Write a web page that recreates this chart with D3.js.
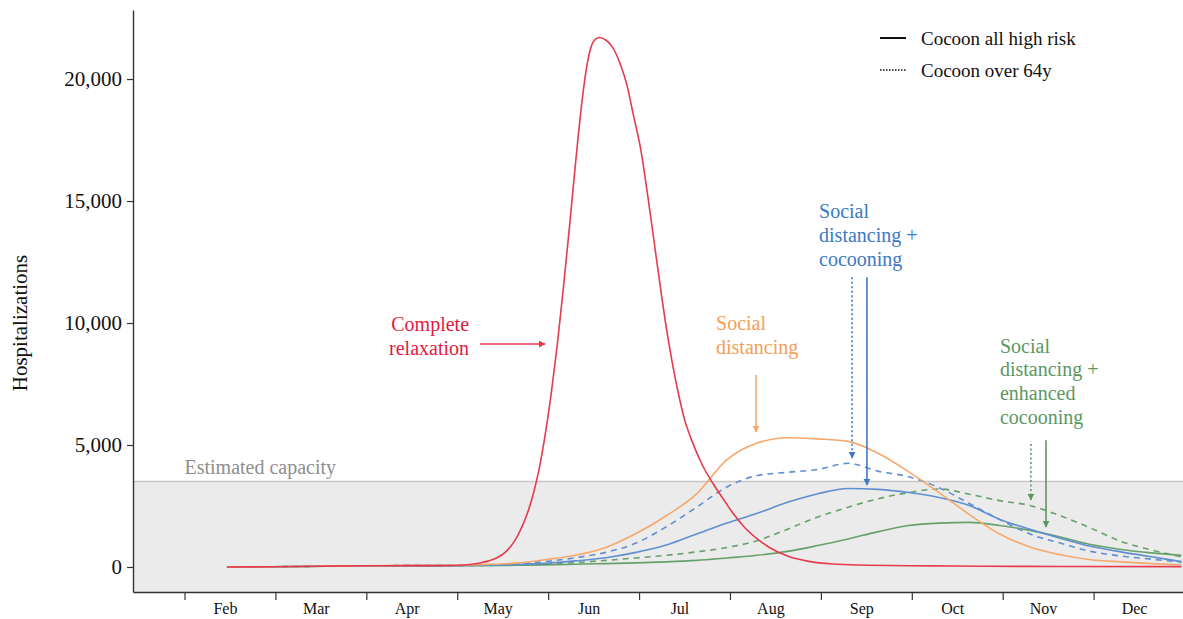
<!DOCTYPE html>
<html>
<head>
<meta charset="utf-8">
<script src="https://cdn.jsdelivr.net/npm/d3@7"></script>
<style>
  body { margin: 0; background: #fff; }
  text { font-family: "Liberation Serif", "Times New Roman", serif; }
</style>
</head>
<body>
<svg id="svg" width="1183" height="619"></svg>
<script>
// day of year (months drawn as 30-day blocks)
const monthTicks = [31, 61, 91, 121, 151, 181, 211, 241, 271, 301, 331];
const monthLabels = ["Feb", "Mar", "Apr", "May", "Jun", "Jul", "Aug", "Sep", "Oct", "Nov", "Dec"];
const yTicks = [0, 5000, 10000, 15000, 20000];
const capacity = 3500;

// complete relaxation (own grid, sharper peak)
const relaxDays = [45, 60, 75, 90, 105, 120, 125, 128.5, 131, 134, 137, 140, 142, 144, 146, 148, 150, 152, 154, 156, 158, 160, 162, 164, 166, 168, 170, 172, 174.7, 177, 179, 181.6, 184, 186, 188, 190, 192, 194, 196, 198.5, 202, 205.5, 209, 212, 216, 220, 224, 230, 237, 245, 254, 284, 320, 360];
const relaxValues = [0, 10, 30, 50, 55, 60, 100, 160, 240, 370, 620, 1080, 1550, 2150, 2950, 4000, 5400, 7100, 9100, 11400, 13900, 16500, 18900, 20700, 21550, 21700, 21600, 21350, 20650, 19750, 18600, 17090, 15100, 13300, 11500, 9800, 8350, 7100, 6050, 5150, 4150, 3400, 2750, 2200, 1600, 1150, 800, 450, 230, 120, 80, 40, 20, 15];

// the social distancing scenarios share one grid
const days = [45, 60, 75, 90, 105, 120, 130, 140, 150, 160, 170, 180, 190, 200, 210, 220, 230, 240, 250, 260, 270, 280, 290, 300, 310, 320, 330, 340, 350, 360];
const sdOnly = [0, 10, 30, 50, 60, 70, 100, 160, 300, 480, 800, 1370, 2100, 3000, 4400, 5080, 5300, 5250, 5150, 4650, 3900, 3050, 2150, 1350, 820, 500, 300, 210, 140, 90];
const sdCocoon64 = [0, 10, 30, 50, 55, 60, 80, 120, 220, 380, 600, 980, 1650, 2450, 3280, 3750, 3880, 4000, 4250, 3920, 3700, 3250, 2600, 1950, 1350, 980, 640, 450, 320, 200];
const sdCocoonAll = [0, 10, 30, 50, 55, 60, 70, 100, 150, 250, 380, 600, 900, 1350, 1800, 2200, 2650, 3000, 3220, 3180, 3050, 2850, 2520, 1950, 1550, 1180, 850, 620, 420, 220];
const enhanced64 = [0, 10, 30, 50, 55, 60, 70, 90, 120, 180, 270, 370, 480, 620, 800, 1080, 1550, 2050, 2450, 2800, 3050, 3200, 2980, 2720, 2520, 2100, 1600, 1050, 700, 420];
const enhancedAll = [0, 10, 25, 40, 45, 50, 55, 70, 85, 110, 140, 170, 210, 270, 370, 480, 640, 880, 1150, 1450, 1700, 1800, 1830, 1700, 1500, 1230, 920, 720, 580, 480];

var svg = d3.select("#svg"),
    plotLeft = 133, plotRight = 1183, plotTop = 10, plotBottom = 592;

var red = "#e63a4d", orange = "#f6a86c", blue = "#5f8fd0", green = "#66a06a";
var redText = "#e3193f", orangeText = "#f59e58", blueText = "#3c78c4", greenText = "#5b9763";

var x = d3.scaleLinear().domain([14, 360.5]).range([plotLeft, plotRight]);
var y = d3.scaleLinear().domain([-1025, 22830]).range([plotBottom, plotTop]);

// shaded zone under the capacity
svg.append("rect")
    .attr("x", plotLeft).attr("y", y(capacity))
    .attr("width", plotRight - plotLeft).attr("height", plotBottom - y(capacity))
    .attr("fill", "#ebebeb");
svg.append("line")
    .attr("x1", plotLeft).attr("x2", plotRight)
    .attr("y1", y(capacity)).attr("y2", y(capacity))
    .attr("stroke", "#c6c6c6").attr("stroke-width", 1.5);
svg.append("text")
    .attr("x", x(31)).attr("y", y(capacity) - 8)
    .attr("font-size", 20).attr("fill", "#8e8e8e")
    .text("Estimated capacity");

svg.append("clipPath").attr("id", "clip")
    .append("rect").attr("x", plotLeft).attr("y", plotTop).attr("width", plotRight - plotLeft).attr("height", plotBottom - plotTop);

var line = d3.line()
    .x(d => x(d[0]))
    .y(d => y(d[1]))
    .curve(d3.curveMonotoneX);

var series = [
    { d: days, v: enhancedAll, color: green, dash: null },
    { d: days, v: enhanced64, color: green, dash: "6,5" },
    { d: days, v: sdCocoonAll, color: blue, dash: null },
    { d: days, v: sdCocoon64, color: blue, dash: "6,5" },
    { d: days, v: sdOnly, color: orange, dash: null },
    { d: relaxDays, v: relaxValues, color: red, dash: null }
];

svg.append("g")
    .attr("clip-path", "url(#clip)")
    .selectAll("path")
    .data(series)
    .enter()
    .append("path")
    .attr("d", s => line(s.d.map((t, i) => [t, s.v[i]])))
    .attr("fill", "none")
    .attr("stroke", s => s.color)
    .attr("stroke-width", 1.6)
    .attr("stroke-dasharray", s => s.dash);

// axes
var yAxis = svg.append("g")
    .attr("transform", "translate(" + plotLeft + ",0)")
    .call(d3.axisLeft(y).tickValues(yTicks).tickFormat(d3.format(",")).tickSize(6).tickSizeOuter(0).tickPadding(5));
yAxis.select(".domain").attr("stroke", "#333").attr("stroke-width", 1.4);
yAxis.selectAll(".tick line").attr("stroke", "#333").attr("stroke-width", 1.2);
yAxis.selectAll(".tick text")
    .attr("font-size", 21).attr("fill", "#111")
    .style("font-family", "'Liberation Serif', serif");

var xAxis = svg.append("g")
    .attr("transform", "translate(0," + plotBottom + ")")
    .call(d3.axisBottom(x).tickValues(monthTicks).tickFormat("").tickSize(8).tickSizeOuter(0));
xAxis.select(".domain").attr("stroke", "#333").attr("stroke-width", 1.4);
xAxis.selectAll(".tick line").attr("stroke", "#333").attr("stroke-width", 1.2);

svg.append("g")
    .selectAll("text")
    .data(monthTicks)
    .enter()
    .append("text")
    .attr("x", d => x(d + 13.5))
    .attr("y", 614)
    .attr("text-anchor", "middle")
    .attr("font-size", 16)
    .attr("fill", "#111")
    .text((d, i) => monthLabels[i]);

svg.append("text")
    .attr("transform", "translate(27," + y(10000) + ") rotate(-90)")
    .attr("text-anchor", "middle")
    .attr("font-size", 21)
    .attr("fill", "#111")
    .text("Hospitalizations");

// arrow heads
var defs = svg.append("defs");
[["red", red], ["orange", orange], ["blue", blueText], ["green", greenText]].forEach(function(c) {
    defs.append("marker")
        .attr("id", "head-" + c[0])
        .attr("viewBox", "0 0 10 10")
        .attr("refX", 9).attr("refY", 5)
        .attr("markerWidth", 7).attr("markerHeight", 7)
        .attr("markerUnits", "userSpaceOnUse")
        .attr("orient", "auto")
        .append("path")
        .attr("d", "M0,0 L10,5 L0,10 z")
        .attr("fill", c[1]);
});

var arrows = [
    { x1: 128.5, y1: 9140, x2: 150, y2: 9140, c: "red", color: red, dash: null },
    { x1: 219.6, y1: 7870, x2: 219.6, y2: 5530, c: "orange", color: orange, dash: null },
    { x1: 251.3, y1: 11880, x2: 251.3, y2: 4470, c: "blue", color: blueText, dash: "2,2.5" },
    { x1: 256.2, y1: 11880, x2: 256.2, y2: 3360, c: "blue", color: blueText, dash: null },
    { x1: 310.3, y1: 5040, x2: 310.3, y2: 2750, c: "green", color: greenText, dash: "2,2.5" },
    { x1: 315.3, y1: 5200, x2: 315.3, y2: 1640, c: "green", color: greenText, dash: null }
];

svg.append("g")
    .selectAll("line")
    .data(arrows)
    .enter()
    .append("line")
    .attr("x1", d => x(d.x1)).attr("y1", d => y(d.y1))
    .attr("x2", d => x(d.x2)).attr("y2", d => y(d.y2))
    .attr("stroke", d => d.color)
    .attr("stroke-width", 1.6)
    .attr("stroke-dasharray", d => d.dash)
    .attr("marker-end", d => "url(#head-" + d.c + ")");

// scenario labels
var labels = [
    { lines: ["Complete", "relaxation"], day: 124.9, top: 9670, anchor: "end", color: redText },
    { lines: ["Social", "distancing"], day: 206.4, top: 9700, anchor: "start", color: orangeText },
    { lines: ["Social", "distancing +", "cocooning"], day: 240.4, top: 14300, anchor: "start", color: blueText },
    { lines: ["Social", "distancing +", "enhanced", "cocooning"], day: 300.1, top: 8780, anchor: "start", color: greenText }
];

labels.forEach(function(l) {
    var t = svg.append("text")
        .attr("x", x(l.day))
        .attr("y", y(l.top))
        .attr("text-anchor", l.anchor)
        .attr("font-size", 20)
        .attr("fill", l.color);
    l.lines.forEach(function(s, i) {
        t.append("tspan").attr("x", x(l.day)).attr("dy", i ? 23.7 : 0).text(s);
    });
});

// legend
var legend = svg.append("g");
legend.append("line").attr("x1", 880).attr("x2", 906).attr("y1", 38).attr("y2", 38)
    .attr("stroke", "#111").attr("stroke-width", 2);
legend.append("line").attr("x1", 880).attr("x2", 906).attr("y1", 70).attr("y2", 70)
    .attr("stroke", "#111").attr("stroke-width", 1.3).attr("stroke-dasharray", "1.5,1.5");
legend.append("text").attr("x", 921).attr("y", 44.5).attr("font-size", 19).attr("fill", "#111").text("Cocoon all high risk");
legend.append("text").attr("x", 921).attr("y", 76.5).attr("font-size", 19).attr("fill", "#111").text("Cocoon over 64y");
</script>
</body>
</html>
